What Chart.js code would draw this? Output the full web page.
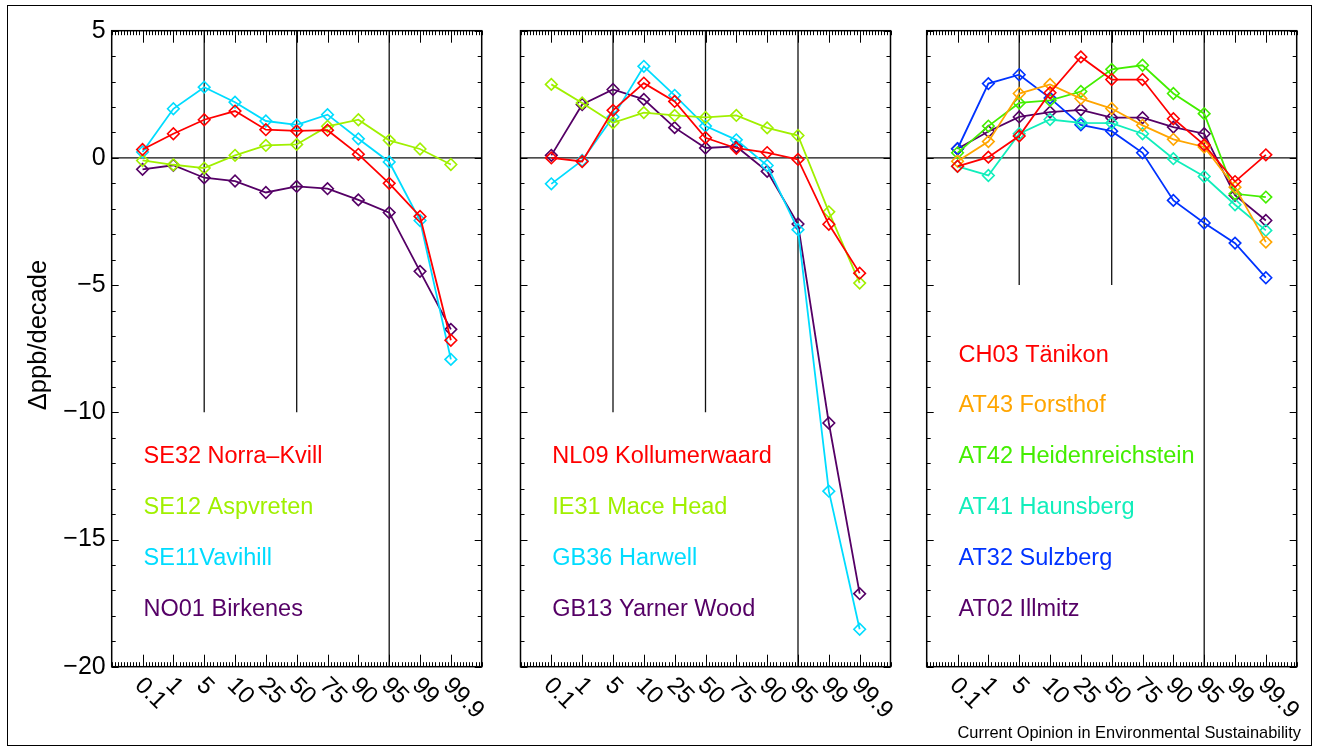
<!DOCTYPE html>
<html><head><meta charset="utf-8">
<script src="https://cdn.jsdelivr.net/npm/chart.js@4.4.1/dist/chart.umd.min.js"></script>
<style>
html,body{margin:0;padding:0;background:#fff;width:1319px;height:750px;overflow:hidden;font-family:"Liberation Sans",Arial,sans-serif;}
canvas{position:absolute;left:0;top:0;}
#frame{position:absolute;left:7px;top:5px;width:1305px;height:741px;border:1.5px solid #000;box-sizing:border-box;}
#ytitle{position:absolute;left:-113px;top:320px;width:300px;height:30px;line-height:30px;text-align:center;font-size:25.5px;color:#000;transform:rotate(-90deg);}
#footer{position:absolute;right:18px;top:723px;font-size:16.4px;line-height:19px;color:#000;white-space:nowrap;}
</style></head>
<body>
<div id="frame"></div>
<canvas id="c1" width="1319" height="750"></canvas>
<canvas id="c2" width="1319" height="750"></canvas>
<canvas id="c3" width="1319" height="750"></canvas>
<div id="ytitle">Δppb/decade</div>
<div id="footer">Current Opinion in Environmental Sustainability</div>
<script>
// ---- data ----
const percentiles = ['0.1','1','5','10','25','50','75','90','95','99','99.9'];
const yTickValues = [-20,-15,-10,-5,0,5];

// panel 1
const se32 = [0.33,0.95,1.50,1.84,1.11,1.06,1.09,0.14,-1.00,-2.30,-7.17];
const se12 = [-0.10,-0.27,-0.40,0.10,0.49,0.53,1.24,1.50,0.69,0.35,-0.26];
const se11 = [0.23,1.93,2.78,2.19,1.45,1.30,1.70,0.75,-0.16,-2.46,-7.92];
const no01 = [-0.45,-0.29,-0.78,-0.91,-1.36,-1.12,-1.21,-1.65,-2.15,-4.46,-6.74];
// panel 2
const nl09 = [0.00,-0.14,1.87,2.94,2.22,0.79,0.38,0.21,-0.06,-2.61,-4.53];
const ie31 = [2.89,2.16,1.38,1.78,1.67,1.59,1.67,1.18,0.88,-2.12,-4.92];
const gb36 = [-1.02,-0.10,1.61,3.60,2.46,1.25,0.71,-0.30,-2.82,-13.10,-18.53];
const gb13 = [0.10,2.10,2.69,2.30,1.19,0.39,0.45,-0.53,-2.60,-10.42,-17.13];
// panel 3
const ch03 = [-0.33,0.03,0.86,2.56,3.97,3.08,3.08,1.54,0.51,-0.93,0.12];
const at43 = [-0.13,0.64,2.53,2.89,2.33,1.94,1.28,0.73,0.43,-1.15,-3.31];
const at42 = [0.20,1.25,2.16,2.26,2.61,3.48,3.64,2.53,1.74,-1.41,-1.54];
const at41 = [-0.33,-0.69,0.95,1.51,1.38,1.37,0.95,-0.03,-0.73,-1.84,-2.85];
const at32 = [0.36,2.92,3.27,2.35,1.30,1.05,0.20,-1.67,-2.56,-3.35,-4.71];
const at02 = [0.36,1.04,1.61,1.80,1.89,1.58,1.58,1.21,0.95,-1.47,-2.46];

const panel1Series = [
  {label:'SE32 Norra\u2013Kvill', values:se32, color:'#ff0000'},
  {label:'SE12 Aspvreten', values:se12, color:'#a0f000'},
  {label:'SE11Vavihill', values:se11, color:'#00dcff'},
  {label:'NO01 Birkenes', values:no01, color:'#550066'}
];
const panel2Series = [
  {label:'NL09 Kollumerwaard', values:nl09, color:'#ff0000'},
  {label:'IE31 Mace Head', values:ie31, color:'#a0f000'},
  {label:'GB36 Harwell', values:gb36, color:'#00dcff'},
  {label:'GB13 Yarner Wood', values:gb13, color:'#550066'}
];
const panel3Series = [
  {label:'CH03 T\u00e4nikon', values:ch03, color:'#ff0000'},
  {label:'AT43 Forsthof', values:at43, color:'#ffa500'},
  {label:'AT42 Heidenreichstein', values:at42, color:'#44ee00'},
  {label:'AT41 Haunsberg', values:at41, color:'#11eebb'},
  {label:'AT32 Sulzberg', values:at32, color:'#0033ff'},
  {label:'AT02 Illmitz', values:at02, color:'#550066'}
];

Chart.defaults.font.family = '"Liberation Sans", Arial, sans-serif';
Chart.defaults.color = '#000';

function line(ctx,x1,y1,x2,y2){ctx.beginPath();ctx.moveTo(x1,y1);ctx.lineTo(x2,y2);ctx.stroke();}

const decor = {
  id:'decor',
  beforeDatasetsDraw(chart, args, o){
    const {ctx, chartArea:a, scales:{x,y}} = chart;
    ctx.save();
    ctx.strokeStyle = '#111'; ctx.lineWidth = 1.3;
    const y0 = y.getPixelForValue(0);
    line(ctx,a.left,y0,a.right,y0);
    o.shortLines.forEach(v=>{const px=x.getPixelForValue(v); line(ctx,px,a.top,px,y.getPixelForValue(o.shortTo));});
    o.fullLines.forEach(v=>{const px=x.getPixelForValue(v); line(ctx,px,a.top,px,a.bottom);});
    ctx.restore();
  },
  afterDraw(chart, args, o){
    const {ctx, chartArea:a, scales:{x,y}} = chart;
    ctx.save();
    ctx.strokeStyle = '#000'; ctx.lineWidth = 1.5;
    ctx.strokeRect(a.left,a.top,a.width,a.height);
    ctx.lineWidth = 1;
    for (let k=Math.round(x.min*10); k<=Math.round(x.max*10); k++){
      const px = Math.round(x.getPixelForValue(k/10))+0.5;
      const major = (k%10===0) && k>=0 && k/10 < percentiles.length;
      const len = major ? 12 : 4.5;
      line(ctx,px,a.bottom,px,a.bottom-len);
      line(ctx,px,a.top,px,a.top+len);
    }
    for (let v=y.min; v<=y.max; v++){
      const py = Math.round(y.getPixelForValue(v))+0.5;
      const len = (v%5===0) ? 7 : 4;
      line(ctx,a.left,py,a.left+len,py);
      line(ctx,a.right,py,a.right-len,py);
    }
    // rotated x labels
    ctx.fillStyle = '#000';
    ctx.font = '24px "Liberation Sans", Arial, sans-serif';
    ctx.textAlign = 'left'; ctx.textBaseline = 'middle';
    percentiles.forEach((lab,i)=>{
      const px = x.getPixelForValue(i);
      ctx.save();
      ctx.translate(px-4, a.bottom+15);
      ctx.rotate(Math.PI/4);
      ctx.fillText(lab,0,0);
      ctx.restore();
    });
    // legend texts
    ctx.font = '23.5px "Liberation Sans", Arial, sans-serif';
    const lx = x.getPixelForValue(0)+1;
    chart.data.datasets.forEach((ds,i)=>{
      ctx.fillStyle = ds.borderColor;
      ctx.fillText(ds.label, lx, y.getPixelForValue(o.legendStart - 2*i));
    });
    ctx.restore();
  }
};

function makeChart(id, series, left, showY, shortTo, legendStart){
  const datasets = series.map(s=>({
    label:s.label,
    data:s.values.map((v,i)=>({x:i,y:v})),
    borderColor:s.color,
    backgroundColor:'rgba(0,0,0,0)',
    pointBorderColor:s.color,
    pointBackgroundColor:'rgba(0,0,0,0)',
    pointStyle:'rectRot',
    pointRadius:5.8,
    pointBorderWidth:1.6,
    borderWidth:1.8,
    showLine:true,
    tension:0
  }));
  const areaRight = left + 370;
  const yWidth = showY ? 100 : 0;
  return new Chart(document.getElementById(id), {
    type:'scatter',
    data:{datasets},
    plugins:[decor],
    options:{
      responsive:false, animation:false, devicePixelRatio:1,
      layout:{padding:{left:left - yWidth, right:1319-areaRight, top:30.7, bottom:750-666.7}},
      plugins:{legend:{display:false}, tooltip:{enabled:false},
        decor:{shortLines:[2,5], fullLines:[8], shortTo:shortTo, legendStart:legendStart}},
      scales:{
        x:{type:'linear', min:-1, max:11, display:false},
        y:{type:'linear', min:-20, max:5, display:showY,
           afterFit:s=>{s.width=yWidth;},
           afterBuildTicks:s=>{s.ticks = yTickValues.map(v=>({value:v}));},
           grid:{display:false, drawTicks:false}, border:{display:false},
           ticks:{font:{size:25}, color:'#000', padding:6, autoSkip:false,
             callback:v=> v<0 ? '\u2212'+Math.abs(v) : String(v)}}
      }
    }
  });
}

makeChart('c1', panel1Series, 111.7, true, -10, -11.75);
makeChart('c2', panel2Series, 520.5, false, -10, -11.75);
makeChart('c3', panel3Series, 926.7, false, -5, -7.75);
</script>
</body></html>
